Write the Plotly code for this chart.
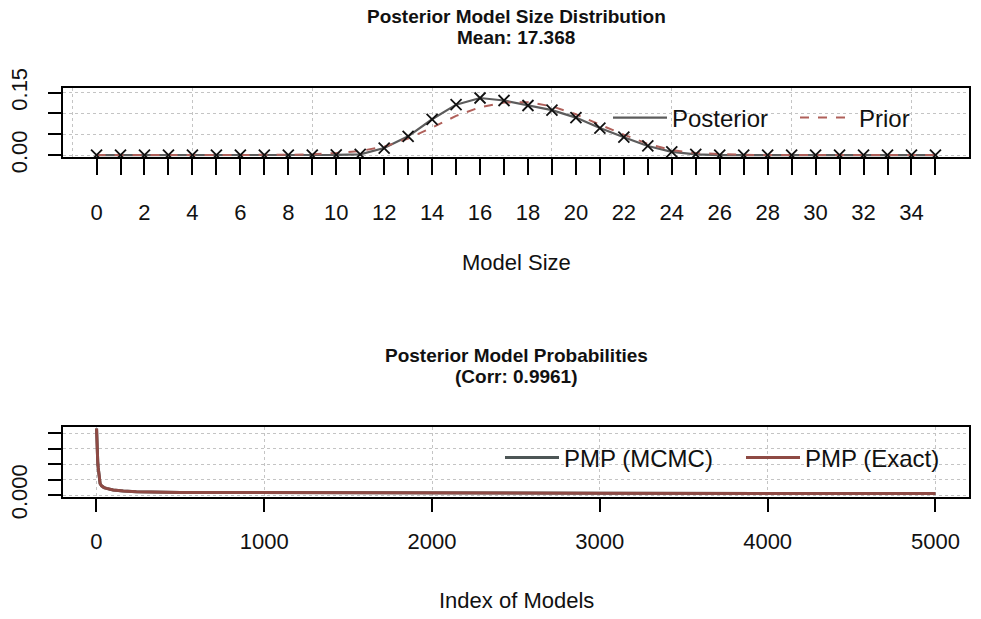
import plotly.graph_objects as go

# ---------------- data ----------------
model_size = list(range(36))
posterior = [0, 0, 0, 0, 0, 0, 0, 0, 0, 0, 0.0005,
             0.002, 0.017, 0.045, 0.086, 0.121, 0.137, 0.131, 0.119, 0.108, 0.090,
             0.065, 0.043, 0.022, 0.008, 0.002, 0, 0, 0, 0, 0, 0, 0, 0, 0, 0]
prior = [0, 0, 0, 0, 0, 0, 0, 0, 0.0007, 0.002, 0.005,
         0.010, 0.020, 0.040, 0.066, 0.094, 0.115, 0.126, 0.127, 0.117, 0.098,
         0.073, 0.049, 0.027, 0.012, 0.005, 0.002, 0.0007, 0, 0, 0, 0, 0, 0, 0, 0]
size_tick_vals = list(range(36))
size_tick_text = [str(v) if v % 2 == 0 else "" for v in size_tick_vals]

model_index = [1, 2, 3, 5, 8, 11, 14, 17, 22, 30, 45, 60, 100, 160, 238,
               500, 1000, 2000, 3000, 4000, 5000]
pmp_exact = [0.0086, 0.0070, 0.0063, 0.0052, 0.0043, 0.0035, 0.0026, 0.0020,
             0.0015, 0.0012, 0.00097, 0.00086, 0.00065, 0.00052, 0.00043,
             0.00034, 0.00030, 0.00026, 0.00023, 0.00021, 0.00020]
pmp_mcmc = [0.0086, 0.0071, 0.0062, 0.0052, 0.0043, 0.0035, 0.0026, 0.0020,
            0.0015, 0.0012, 0.00097, 0.00086, 0.00065, 0.00052, 0.00043,
            0.00034, 0.00030, 0.00026, 0.00023, 0.00021, 0.00020]
index_tick_vals = [0, 1000, 2000, 3000, 4000, 5000]
pmp_tick_vals = [0, 0.002, 0.004, 0.006, 0.008]
pmp_tick_text = ["0.000", "", "", "", ""]
size_y_tick_vals = [0, 0.05, 0.10, 0.15]
size_y_tick_text = ["0.00", "", "", "0.15"]

# ---------------- figure ----------------
W, H = 981, 619
FONT = "Liberation Sans, Arial, sans-serif"
GRID = "#c4c4c4"
BROWN = "#8e4a44"
PRIOR_COL = "#b0605a"

fig = go.Figure()
fig.add_trace(go.Scatter(
    x=model_size, y=posterior, mode="lines", name="Posterior",
    line=dict(color="#5c5c5c", width=2.2),
    xaxis="x", yaxis="y", legend="legend"))
fig.add_trace(go.Scatter(
    x=model_size, y=prior, mode="lines", name="Prior",
    line=dict(color=PRIOR_COL, width=2, dash="dash"),
    xaxis="x", yaxis="y", legend="legend"))
fig.add_trace(go.Scatter(
    x=model_size, y=posterior, mode="markers", name="Posterior", showlegend=False,
    marker=dict(symbol="x-thin", size=11, line=dict(color="#111111", width=1.8)),
    xaxis="x", yaxis="y"))
fig.add_trace(go.Scatter(
    x=model_index, y=pmp_mcmc, mode="lines", name="PMP (MCMC)",
    line=dict(color="#4d5656", width=3),
    xaxis="x2", yaxis="y2", legend="legend2"))
fig.add_trace(go.Scatter(
    x=model_index, y=pmp_exact, mode="lines", name="PMP (Exact)",
    line=dict(color=BROWN, width=3),
    xaxis="x2", yaxis="y2", legend="legend2"))

xd = [63 / W, 969 / W]
top_dom = [1 - 157 / H, 1 - 88 / H]
bot_dom = [1 - 497 / H, 1 - 427 / H]

axis_common = dict(showline=True, mirror=True, linewidth=2, linecolor="black",
                   ticks="outside", tickwidth=2, tickcolor="black", zeroline=False,
                   automargin=False,
                   tickfont=dict(family=FONT, size=22, color="#111111"))

fig.update_layout(
    width=W, height=H, margin=dict(l=0, r=0, t=0, b=0, autoexpand=False),
    paper_bgcolor="white", plot_bgcolor="white",
    font=dict(family=FONT, color="#111111"),
    xaxis=dict(domain=xd, anchor="y", range=[-1.4, 36.4],
               tickmode="array", tickvals=size_tick_vals, ticktext=size_tick_text,
               ticklen=16, ticklabelstandoff=19, showgrid=False,
               minor=dict(tick0=-1, dtick=5, showgrid=True, gridcolor=GRID,
                          griddash="dot", gridwidth=1.2, ticks=""),
               **axis_common),
    yaxis=dict(domain=top_dom, anchor="x", range=[-0.0045, 0.161],
               tickmode="array", tickvals=size_y_tick_vals, ticktext=size_y_tick_text,
               ticklen=13, tickangle=-90, ticklabelstandoff=12,
               showgrid=True, gridcolor=GRID, griddash="dot", gridwidth=1.2,
               **axis_common),
    xaxis2=dict(domain=xd, anchor="y2", range=[-199, 5200],
                tickmode="array", tickvals=index_tick_vals,
                ticklen=13, ticklabelstandoff=11,
                showgrid=True, gridcolor=GRID, griddash="dot", gridwidth=1.2,
                **axis_common),
    yaxis2=dict(domain=bot_dom, anchor="x2", range=[-0.00025, 0.0088],
                tickmode="array", tickvals=pmp_tick_vals, ticktext=pmp_tick_text,
                ticklen=13, tickangle=-90, ticklabelstandoff=12,
                showgrid=True, gridcolor=GRID, griddash="dot", gridwidth=1.2,
                **axis_common),
    legend=dict(orientation="h", x=608 / W, y=1 - 118 / H, xanchor="left",
                yanchor="middle", bgcolor="rgba(0,0,0,0)", itemwidth=54,
                entrywidth=118,
                font=dict(family=FONT, size=24, color="#111111"),
                traceorder="normal"),
    legend2=dict(orientation="h", x=500 / W, y=1 - 458 / H, xanchor="left",
                 yanchor="middle", bgcolor="rgba(0,0,0,0)", itemwidth=54,
                 entrywidth=172,
                 font=dict(family=FONT, size=24, color="#111111"),
                 traceorder="normal"),
    showlegend=True,
)

cx = (63 + 969) / 2 / W
title_font = dict(family=FONT, size=19, color="#111111")
label_font = dict(family=FONT, size=22, color="#111111")
ann = [
    ("<b>Posterior Model Size Distribution</b>", 17, title_font),
    ("<b>Mean: 17.368</b>", 38, title_font),
    ("<b>Posterior Model Probabilities</b>", 355, title_font),
    ("<b>(Corr: 0.9961)</b>", 376, title_font),
    ("Model Size", 262, label_font),
    ("Index of Models", 600, label_font),
]
for text, ypix, f in ann:
    fig.add_annotation(text=text, x=cx, y=1 - ypix / H, xref="paper", yref="paper",
                       xanchor="center", yanchor="middle", showarrow=False, font=f)

fig.write_html("out.html", config={"displayModeBar": False},
               post_script="document.body.style.margin='0';document.body.style.overflow='hidden';")
